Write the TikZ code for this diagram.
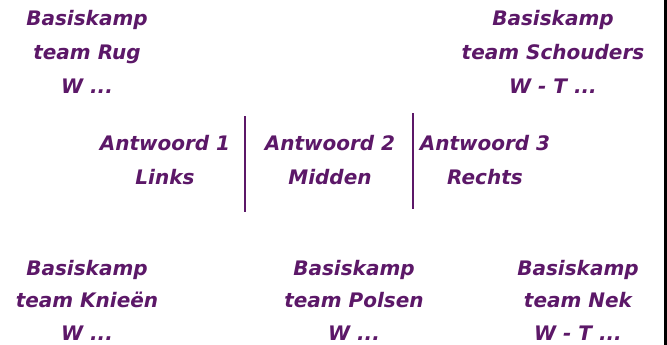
\documentclass[tikz,border=0pt]{standalone}
\usepackage{fontspec}
\setmainfont{DejaVu Sans}
\definecolor{txtpurple}{RGB}{92,24,104}
\begin{document}
\begin{tikzpicture}[x=1pt,y=-1pt,
  lbl/.style={text=txtpurple, align=center, inner sep=0pt,
    font=\fontsize{20}{34}\selectfont\bfseries\itshape},
  lblb/.style={lbl, font=\fontsize{20}{32.5}\selectfont\bfseries\itshape},
  sep/.style={draw=txtpurple, line width=2.6pt}]
\useasboundingbox (0,0) rectangle (667,345);
\fill[white] (0,0) rectangle (667,345);
\fill[black] (664,0) rectangle (667,345);
% top
\node[lbl] (rug) at (87,52) {Basiskamp\\team Rug\\W ...};
\node[lbl] (schouders) at (553,52) {Basiskamp\\team Schouders\\W - T ...};
% middle
\node[lbl] (a1) at (165,160) {Antwoord 1\\Links};
\node[lbl] (a2) at (330,160) {Antwoord 2\\Midden};
\node[lbl] (a3) at (485,160) {Antwoord 3\\Rechts};
\coordinate (s1t) at (245,116);
\coordinate (s1b) at (245,212);
\coordinate (s2t) at (413,113);
\coordinate (s2b) at (413,209);
\draw[sep] (s1t) -- (s1b);
\draw[sep] (s2t) -- (s2b);
% bottom
\node[lblb] (knieen) at (87,300) {Basiskamp\\team Knieën\\W ...};
\node[lblb] (polsen) at (354,300) {Basiskamp\\team Polsen\\W ...};
\node[lblb] (nek) at (578,300) {Basiskamp\\team Nek\\W - T ...};
\end{tikzpicture}
\end{document}
